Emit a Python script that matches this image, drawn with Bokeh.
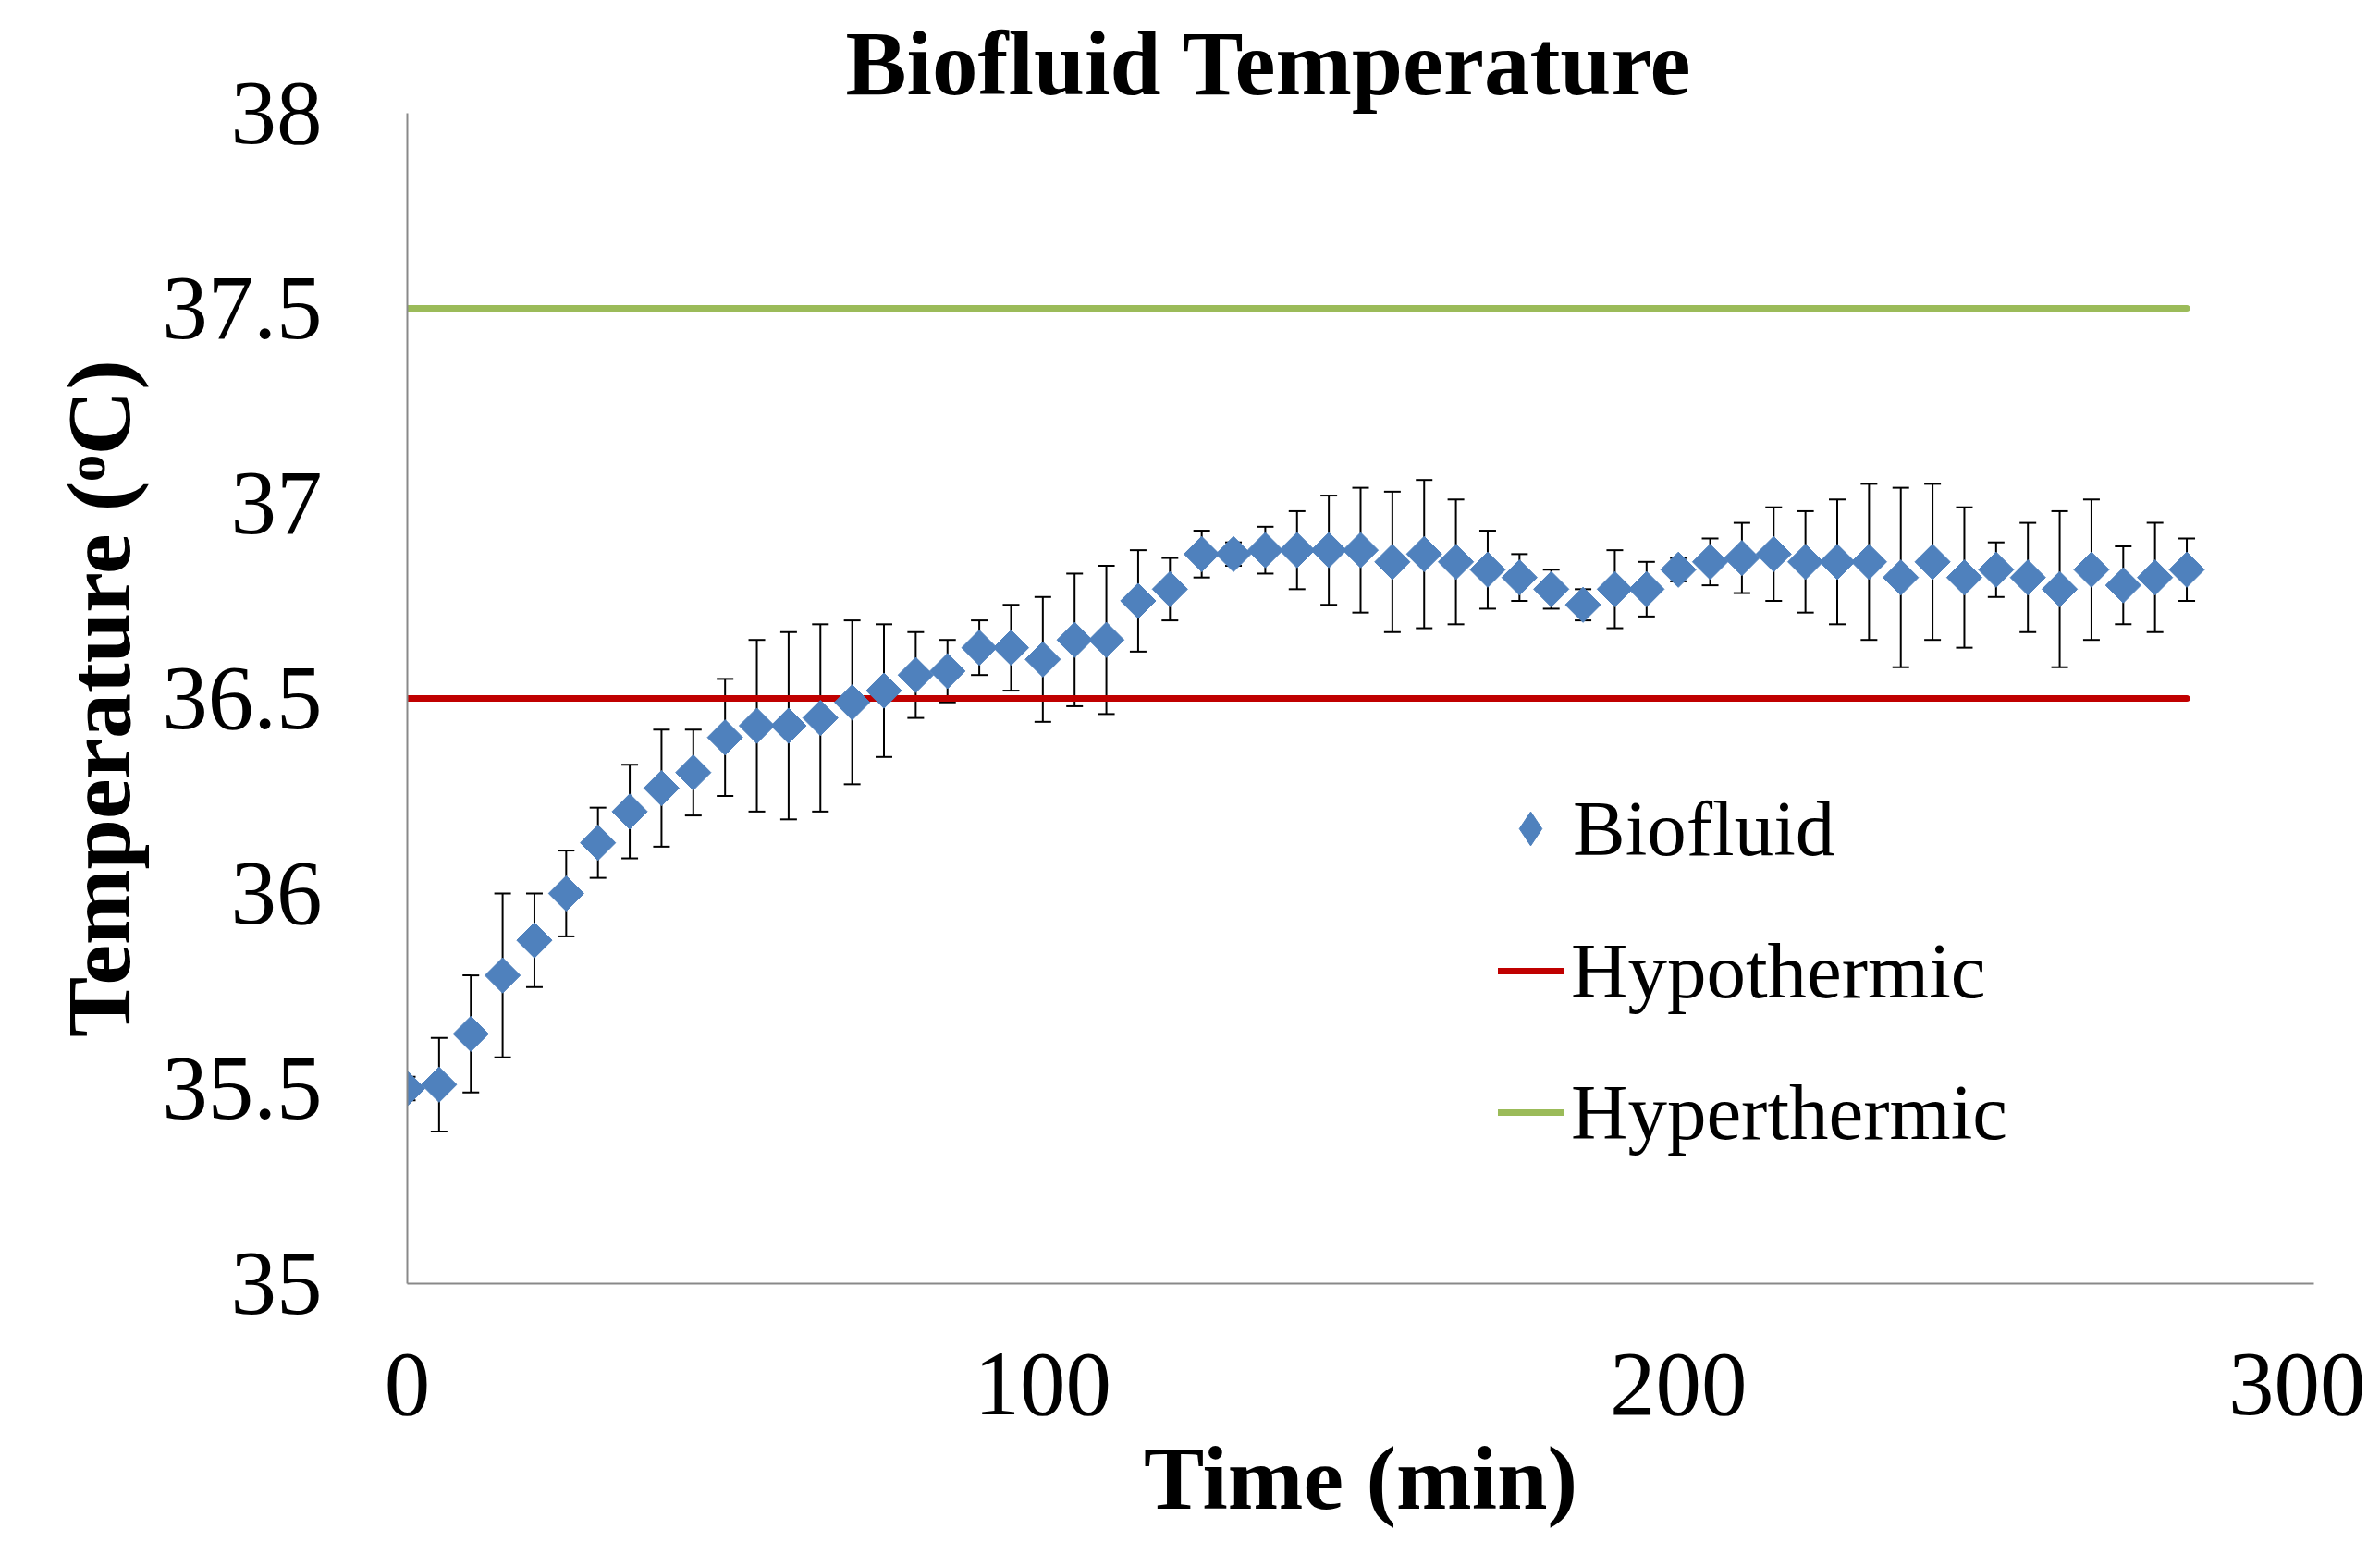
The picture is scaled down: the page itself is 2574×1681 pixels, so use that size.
from bokeh.plotting import figure
from bokeh.models import (ColumnDataSource, Whisker, TeeHead, Range1d, FixedTicker,
                          Legend, LegendItem)
from bokeh.embed import file_html
from bokeh.resources import INLINE
import numpy as np

# ---- data ----
time_min = [0, 5, 10, 15, 20, 25, 30, 35, 40, 45, 50, 55, 60, 65, 70, 75, 80, 85, 90, 95,
            100, 105, 110, 115, 120, 125, 130, 135, 140, 145, 150, 155, 160, 165, 170, 175,
            180, 185, 190, 195, 200, 205, 210, 215, 220, 225, 230, 235, 240, 245, 250, 255,
            260, 265, 270, 275, 280]
biofluid = [35.50, 35.51, 35.64, 35.79, 35.88, 36.00, 36.13, 36.21, 36.27, 36.31,
            36.40, 36.43, 36.43, 36.45, 36.49, 36.52, 36.56, 36.57, 36.63, 36.63,
            36.60, 36.65, 36.65, 36.75, 36.78, 36.87, 36.87, 36.88, 36.88, 36.88,
            36.88, 36.85, 36.87, 36.85, 36.83, 36.81, 36.78, 36.74, 36.78, 36.78,
            36.83, 36.85, 36.86, 36.87, 36.85, 36.85, 36.85, 36.81, 36.85, 36.81,
            36.83, 36.81, 36.78, 36.83, 36.79, 36.81, 36.83]
biofluid_err = [0.03, 0.12, 0.15, 0.21, 0.12, 0.11, 0.09, 0.12, 0.15, 0.11,
                0.15, 0.22, 0.24, 0.24, 0.21, 0.17, 0.11, 0.08, 0.07, 0.11,
                0.16, 0.17, 0.19, 0.13, 0.08, 0.06, 0.03, 0.06, 0.10, 0.14,
                0.16, 0.18, 0.19, 0.16, 0.10, 0.06, 0.05, 0.04, 0.10, 0.07,
                0.03, 0.06, 0.09, 0.12, 0.13, 0.16, 0.20, 0.23, 0.20, 0.18,
                0.07, 0.14, 0.20, 0.18, 0.10, 0.14, 0.08]
hypothermic = [36.5] * len(time_min)
hyperthermic = [37.5] * len(time_min)

x_ticks = [0, 100, 200, 300]
y_ticks = [35, 35.5, 36, 36.5, 37, 37.5, 38]
y_tick_labels = ["35", "35.5", "36", "36.5", "37", "37.5", "38"]

# ---- styles ----
FONT = "Liberation Serif"
BLUE = "#4F81BD"
RED = "#C00000"
GREEN = "#9BBB59"
AXIS_GREY = "#898989"

src = ColumnDataSource(dict(
    x=time_min, y=biofluid,
    upper=[v + e for v, e in zip(biofluid, biofluid_err)],
    lower=[v - e for v, e in zip(biofluid, biofluid_err)],
))

p = figure(width=2558, height=1665, output_backend="svg", toolbar_location=None,
           x_range=Range1d(0, 300), y_range=Range1d(35, 38),
           min_border_left=440, min_border_right=56, min_border_top=122,
           min_border_bottom=277)
p.outline_line_color = None
p.xgrid.grid_line_color = None
p.ygrid.grid_line_color = None
p.background_fill_color = "white"
p.border_fill_color = "white"

# title
p.title.text = "Biofluid Temperature"
p.title.text_font = FONT
p.title.text_font_size = "99px"
p.title.text_font_style = "bold"
p.title.text_color = "black"
p.title.align = "left"
p.title.offset = 474
p.title.standoff = 0

# threshold lines
r_hypo = p.line(time_min, hypothermic, line_color=RED, line_width=7, line_cap="round")
r_hyper = p.line(time_min, hyperthermic, line_color=GREEN, line_width=7, line_cap="round")

# error bars
wh = Whisker(base="x", upper="upper", lower="lower", source=src,
             line_color="black", line_width=2,
             upper_head=TeeHead(size=18, line_color="black", line_width=2),
             lower_head=TeeHead(size=18, line_color="black", line_width=2))
p.add_layout(wh)

# markers
r_bio = p.scatter("x", "y", source=src, marker="square", angle=np.pi / 4, size=27,
                  fill_color=BLUE, line_color=BLUE)
# legend-only diamond glyph (hidden in the plot)
r_bio_leg = p.scatter("x", "y", source=src, marker="diamond",
                      fill_color=BLUE, line_color=BLUE, visible=False)

# axes
for ax in (p.xaxis[0], p.yaxis[0]):
    ax.axis_line_color = AXIS_GREY
    ax.axis_line_width = 2
    ax.major_tick_line_color = None
    ax.minor_tick_line_color = None
    ax.major_label_text_font = FONT
    ax.major_label_text_font_size = "99px"
    ax.major_label_text_color = "black"
    ax.axis_label_text_font = FONT
    ax.axis_label_text_font_size = "98px"
    ax.axis_label_text_font_style = "bold"
    ax.axis_label_text_color = "black"

p.xaxis.ticker = FixedTicker(ticks=x_ticks)
p.yaxis.ticker = FixedTicker(ticks=y_ticks)
p.yaxis.major_label_overrides = {t: l for t, l in zip(y_ticks, y_tick_labels)}
p.xaxis.axis_label = "Time (min)"
p.yaxis.axis_label = "Temperature (\u1d52C)"
p.xaxis.major_label_standoff = 70
p.yaxis.major_label_standoff = 86
p.xaxis.axis_label_standoff = 12
p.yaxis.axis_label_standoff = 11


def style_legend(lg):
    lg.label_text_font = FONT
    lg.label_text_font_size = "85px"
    lg.label_text_color = "black"
    lg.glyph_height = 100
    lg.label_height = 100
    lg.padding = 0
    lg.margin = 0
    lg.border_line_color = None
    lg.background_fill_alpha = 0
    lg.inactive_fill_alpha = 0


legend1 = Legend(items=[LegendItem(label="Biofluid", renderers=[r_bio_leg])],
                 location=(1169, 442))
style_legend(legend1)
legend1.glyph_width = 92
legend1.label_standoff = 0

legend2 = Legend(items=[
    LegendItem(label="Hypothermic", renderers=[r_hypo]),
    LegendItem(label="Hyperthermic", renderers=[r_hyper]),
], location=(1180, 135))
style_legend(legend2)
legend2.glyph_width = 71
legend2.label_standoff = 8
legend2.spacing = 53

p.add_layout(legend1)
p.add_layout(legend2)

open("out.html", "w").write(file_html(p, INLINE))
